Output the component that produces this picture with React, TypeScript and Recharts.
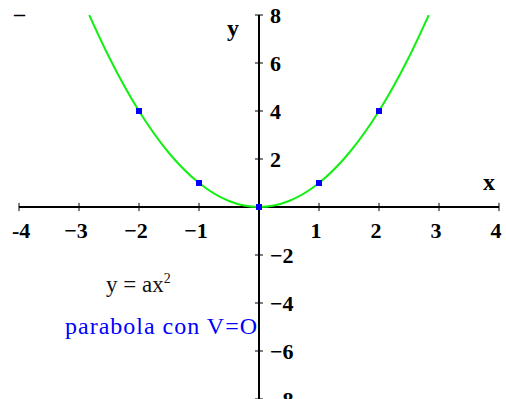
import React from "react";
import { ComposedChart, Line, Scatter, XAxis, YAxis, ReferenceLine } from "recharts";

// curve y = ax^2 (a = 1)
const curveX = [-2.83, -2.5, -2, -1.5, -1, -0.5, 0, 0.5, 1, 1.5, 2, 2.5, 2.83];
const curveY = [8, 6.25, 4, 2.25, 1, 0.25, 0, 0.25, 1, 2.25, 4, 6.25, 8];

const pointX = [-2, -1, 0, 1, 2];
const pointY = [4, 1, 0, 1, 4];

const xTicks = [-4, -3, -2, -1, 1, 2, 3, 4];
const xTickLabels = ["-4", "−3", "−2", "−1", "1", "2", "3", "4"];
const yTicks = [-8, -6, -4, -2, 2, 4, 6, 8];
const yTickLabels = ["−8", "−6", "−4", "−2", "2", "4", "6", "8"];

const curve = curveX.map((x, i) => ({ x, y: curveY[i] }));
const points = pointX.map((x, i) => ({ x, y: pointY[i] }));

const W = 506;
const H = 399;
const tickFont = { fontFamily: "'Liberation Serif', serif", fontWeight: 700, fontSize: 22, fill: "#000" };

const Square = (props: { cx?: number; cy?: number }) => {
  const { cx = 0, cy = 0 } = props;
  return <rect x={cx - 3} y={cy - 3} width={6} height={6} fill="#0000ff" />;
};

export default function App() {
  return (
    <div style={{ position: "absolute", left: 0, top: 0, width: W, height: H, background: "#fff", overflow: "hidden" }}>
      <ComposedChart width={W} height={H} margin={{ top: 15, right: 7, left: 19, bottom: 0 }}>
        <XAxis dataKey="x" type="number" domain={[-4, 4]} hide allowDataOverflow />
        <YAxis dataKey="y" type="number" domain={[-8, 8]} hide allowDataOverflow />
        <ReferenceLine y={0} stroke="#000" strokeWidth={2} />
        <ReferenceLine x={0} stroke="#000" strokeWidth={2} />
        {xTicks.map((v, i) => (
          <ReferenceLine
            key={"xt" + v}
            segment={[{ x: v, y: -0.17 }, { x: v, y: 0.17 }]}
            stroke="#000"
            strokeWidth={1}
            label={(p: any) => {
              const vb = p.viewBox || {};
              const first = i === 0;
              return (
                <text
                  x={first ? vb.x - 7 : vb.x - 3}
                  y={vb.y + vb.height + 27}
                  textAnchor={first ? "start" : "middle"}
                  {...tickFont}
                >
                  {xTickLabels[i]}
                </text>
              );
            }}
          />
        ))}
        {yTicks.map((v, i) => (
          <ReferenceLine
            key={"yt" + v}
            segment={[{ x: -0.067, y: v }, { x: 0.067, y: v }]}
            stroke="#000"
            strokeWidth={1}
            label={(p: any) => {
              const vb = p.viewBox || {};
              return (
                <text x={vb.x + 15} y={vb.y + 8} textAnchor="start" {...tickFont}>
                  {yTickLabels[i]}
                </text>
              );
            }}
          />
        ))}
        <Line
          data={curve}
          dataKey="y"
          type="monotone"
          stroke="#11f011"
          strokeWidth={2}
          dot={false}
          isAnimationActive={false}
        />
        <Scatter data={points} dataKey="y" shape={<Square />} isAnimationActive={false} />
      </ComposedChart>
      <div style={{ position: "absolute", left: 14, top: 1, font: "700 22px 'Liberation Serif', serif" }}>–</div>
      <div style={{ position: "absolute", left: 227, top: 15, font: "700 24px 'Liberation Serif', serif" }}>y</div>
      <div style={{ position: "absolute", left: 483, top: 169, font: "700 24px 'Liberation Serif', serif" }}>x</div>
      <div style={{ position: "absolute", left: 106, top: 271, font: "400 23px 'Liberation Serif', serif", color: "#111", whiteSpace: "nowrap" }}>
        y = ax<sup style={{ fontSize: 14 }}>2</sup>
      </div>
      <div
        style={{
          position: "absolute",
          left: 65,
          top: 313,
          font: "400 24px 'Liberation Serif', serif",
          letterSpacing: 1,
          color: "#0000ff",
          whiteSpace: "nowrap",
        }}
      >
        parabola con V=O
      </div>
    </div>
  );
}
